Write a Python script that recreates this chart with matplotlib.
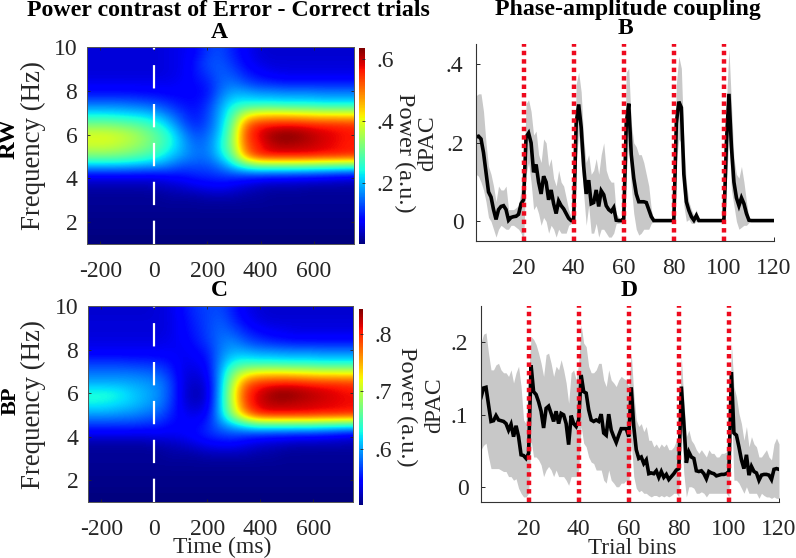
import numpy as np
import matplotlib
matplotlib.use('Agg')
import matplotlib.pyplot as plt

plt.rcParams['font.family'] = ['Liberation Serif', 'DejaVu Serif']

# heatmap grid, frequency rows from 10 Hz down to 1 Hz, values in % of the colour range
times = [-250, -200, -150, -100, -50, 0, 50, 100, 150, 200, 250, 300, 350, 400, 450, 500, 550, 600, 650, 700, 750]
freqs = [10, 9.5, 9, 8.5, 8, 7.5, 7, 6.5, 6, 5.5, 5, 4.5, 4, 3.5, 3, 2.5, 2, 1.5, 1]
power_rw = [
    [8, 8, 8, 8, 8, 8, 9, 10, 12, 18, 20, 15, 11, 8, 7, 7, 7, 7, 7, 7, 7],
    [8, 8, 8, 8, 8, 8, 9, 10, 14, 20, 21, 17, 12, 9, 8, 8, 8, 8, 8, 8, 8],
    [8, 8, 8, 8, 8, 8, 9, 10, 14, 18, 22, 20, 15, 12, 10, 9, 9, 9, 9, 9, 9],
    [10, 10, 10, 10, 10, 10, 10, 11, 13, 15, 22, 24, 20, 17, 16, 15, 15, 15, 15, 15, 15],
    [14, 14, 14, 14, 13, 13, 12, 12, 12, 14, 24, 30, 30, 28, 28, 27, 27, 27, 26, 26, 26],
    [24, 24, 24, 23, 22, 20, 17, 14, 13, 17, 28, 37, 38, 38, 38, 37, 37, 37, 36, 36, 36],
    [36, 36, 35, 34, 33, 30, 24, 18, 14, 19, 30, 44, 62, 67, 68, 68, 67, 66, 65, 65, 65],
    [50, 50, 49, 47, 44, 40, 32, 22, 16, 20, 31, 50, 80, 88, 89, 90, 90, 89, 88, 88, 87],
    [62, 62, 60, 57, 52, 46, 39, 28, 20, 23, 33, 54, 84, 91, 98, 100, 99, 96, 93, 91, 89],
    [60, 60, 58, 55, 51, 46, 39, 30, 23, 24, 36, 54, 82, 88, 94, 96, 95, 94, 92, 90, 88],
    [50, 50, 49, 47, 44, 40, 33, 28, 24, 24, 33, 48, 76, 88, 90, 90, 90, 90, 89, 89, 88],
    [30, 30, 30, 29, 28, 27, 24, 20, 20, 20, 24, 33, 41, 46, 46, 46, 46, 45, 44, 43, 42],
    [10, 10, 10, 10, 10, 10, 12, 13, 15, 16, 17, 17, 16, 15, 14, 14, 13, 13, 12, 11, 10],
    [4, 4, 4, 4, 4, 5, 6, 7, 9, 10, 11, 9, 7, 5, 4, 4, 4, 3, 3, 3, 3],
    [2, 2, 2, 2, 2, 2, 3, 3, 3, 4, 4, 4, 3, 3, 2, 2, 2, 2, 2, 2, 2],
    [2, 2, 2, 2, 2, 2, 2, 2, 2, 2, 2, 2, 2, 2, 2, 2, 2, 2, 2, 2, 2],
    [1, 1, 1, 1, 1, 1, 1, 1, 1, 1, 1, 1, 1, 1, 1, 1, 1, 1, 1, 1, 1],
    [1, 1, 1, 1, 1, 1, 1, 1, 1, 1, 1, 1, 1, 1, 1, 1, 1, 1, 1, 1, 1],
    [0, 0, 0, 0, 0, 0, 0, 0, 0, 0, 0, 0, 0, 0, 0, 0, 0, 0, 0, 0, 0],
]
power_bp = [
    [7, 7, 7, 7, 7, 8, 9, 13, 17, 19, 20, 15, 10, 8, 7, 7, 7, 7, 7, 7, 7],
    [8, 8, 8, 8, 8, 8, 9, 12, 16, 19, 22, 17, 12, 9, 8, 8, 8, 8, 8, 8, 8],
    [8, 8, 8, 8, 8, 8, 9, 12, 15, 19, 23, 21, 16, 13, 11, 10, 9, 9, 9, 9, 9],
    [9, 9, 9, 9, 9, 9, 10, 11, 14, 18, 24, 26, 21, 18, 16, 15, 14, 14, 14, 14, 14],
    [11, 11, 11, 11, 11, 11, 11, 10, 12, 15, 25, 30, 30, 28, 28, 27, 27, 27, 26, 26, 26],
    [18, 18, 18, 17, 17, 16, 14, 10, 10, 13, 27, 38, 40, 39, 39, 38, 38, 38, 37, 37, 37],
    [24, 24, 24, 24, 23, 22, 17, 9, 8, 11, 29, 50, 62, 66, 67, 67, 66, 65, 64, 64, 64],
    [30, 30, 30, 29, 28, 26, 20, 9, 6, 9, 30, 58, 80, 87, 88, 89, 89, 88, 87, 87, 86],
    [39, 39, 37, 33, 30, 27, 20, 9, 4, 8, 31, 62, 86, 92, 98, 100, 98, 96, 94, 92, 90],
    [37, 36, 34, 32, 29, 26, 19, 9, 6, 9, 32, 60, 85, 92, 95, 95, 94, 93, 92, 91, 90],
    [28, 28, 27, 26, 24, 22, 16, 11, 9, 12, 31, 55, 76, 88, 90, 90, 90, 90, 89, 89, 88],
    [18, 18, 18, 18, 17, 16, 13, 12, 12, 16, 25, 32, 39, 44, 44, 44, 44, 44, 43, 42, 41],
    [9, 9, 9, 9, 9, 10, 10, 11, 13, 16, 18, 19, 17, 16, 15, 15, 14, 14, 13, 12, 10],
    [3, 3, 3, 3, 3, 4, 5, 6, 8, 10, 11, 11, 9, 7, 6, 5, 4, 4, 4, 4, 4],
    [2, 2, 2, 2, 2, 2, 3, 3, 3, 4, 4, 4, 4, 3, 3, 2, 2, 2, 2, 2, 2],
    [2, 2, 2, 2, 2, 2, 2, 2, 2, 2, 2, 2, 2, 2, 2, 2, 2, 2, 2, 2, 2],
    [1, 1, 1, 1, 1, 1, 1, 1, 1, 1, 1, 1, 1, 1, 1, 1, 1, 1, 1, 1, 1],
    [1, 1, 1, 1, 1, 1, 1, 1, 1, 1, 1, 1, 1, 1, 1, 1, 1, 1, 1, 1, 1],
    [0, 0, 0, 0, 0, 0, 0, 0, 0, 0, 0, 0, 0, 0, 0, 0, 0, 0, 0, 0, 0],
]
range_rw = [0.003, 0.635]
range_bp = [0.503, 0.843]

# trial bins 1..120
pac_b = [.215, .217, .21, .175, .125, .075, .062, .03, .005, .03, .038, .04, .03, .003, .01, .012, .013, .018, .045, .055,
         .215, .225, .2, .125, .145, .1, .07, .115, .1, .055, .08, .045, .02, .052, .04, .032, .02, .008, .002, .002,
         .25, .298, .24, .14, .07, .105, .045, .048, .08, .038, .078, .068, .04, .03, .025, .035, .003, .002, .002, .007,
         .25, .3, .17, .11, .07, .05, .05, .05, .048, .03, .012, .002, .002, .002, .002, .002, .002, .002, .002, .002,
         .25, .305, .29, .12, .05, .028, .012, .003, .015, .002, .002, .002, .002, .002, .002, .002, .002, .002, .002, .002,
         .2, .325, .19, .1, .06, .04, .06, .045, .02, .003, .002, .002, .002, .002, .002, .002, .002, .002, .002, .002]
upper_b = [.32, .325, .325, .28, .2, .14, .12, .09, .05, .09, .08, .08, .09, .03, .03, .03, .035, .04, .08, .1,
           .3, .31, .28, .22, .23, .17, .15, .21, .2, .14, .16, .11, .09, .13, .1, .09, .06, .03, .01, .01,
           .35, .38, .33, .21, .15, .17, .12, .13, .16, .12, .17, .2, .13, .11, .1, .1, .02, .01, .005, .02,
           .38, .39, .25, .2, .19, .17, .17, .15, .12, .09, .03, .003, .002, .002, .002, .002, .002, .002, .002, .002,
           .35, .42, .39, .2, .1, .05, .03, .015, .03, .005, .002, .002, .002, .002, .002, .002, .002, .002, .002, .002,
           .3, .44, .3, .16, .12, .11, .14, .1, .05, .01, .002, .002, .002, .002, .002, .002, .002, .002, .002, .002]
lower_b = [.12, .115, .1, .08, .05, .01, 0, -.02, -.04, -.02, -.01, -.015, -.02, -.02, -.01, -.01, -.015, -.02, -.03, -.05,
           .12, .15, .1, .03, .04, .02, -.01, .01, 0, -.03, -.01, -.02, -.04, -.02, -.03, -.03, -.03, -.01, -.005, -.005,
           .15, .22, .15, .07, -.01, .04, -.03, -.03, -.005, -.04, -.02, -.02, -.03, -.04, -.04, -.03, -.005, -.005, -.003, -.005,
           .12, .2, .09, .02, -.02, -.035, -.03, -.02, -.02, -.02, -.005, .001, .002, .002, .002, .002, .002, .002, .002, .002,
           .15, .21, .2, .04, 0, .005, -.005, -.005, 0, 0, .002, .002, .002, .002, .002, .002, .002, .002, .002, .002,
           .1, .21, .08, .04, 0, -.02, -.015, -.01, -.01, -.003, .002, .002, .002, .002, .002, .002, .002, .002, .002, .002]

pac_d = [.124, .137, .138, .114, .091, .092, .099, .093, .092, .091, .088, .079, .087, .07, .085, .07, .045, .044, .04, .047,
         .168, .132, .128, .118, .105, .082, .109, .112, .102, .091, .105, .088, .102, .1, .088, .059, .099, .088, .084, .093,
         .155, .132, .13, .107, .093, .091, .093, .091, .101, .075, .072, .101, .079, .07, .062, .072, .081, .081, .081, .07,
         .138, .084, .052, .04, .042, .033, .038, .019, .02, .019, .023, .014, .022, .014, .018, .011, .015, .019, .024, .026,
         .139, .088, .034, .049, .042, .04, .023, .022, .023, .019, .012, .022, .02, .019, .016, .017, .018, .018, .019, .022,
         .159, .075, .072, .056, .038, .026, .045, .017, .029, .022, .02, .01, .017, .018, .018, .017, .011, .025, .026, .025]
upper_d = [.199, .211, .213, .185, .162, .162, .169, .171, .162, .158, .158, .153, .162, .144, .158, .167, .139, .093, .088, .153,
           .208, .204, .197, .185, .171, .153, .183, .185, .171, .153, .167, .162, .176, .162, .144, .116, .158, .162, .148, .171,
           .224, .199, .194, .167, .158, .158, .162, .171, .171, .148, .139, .162, .148, .144, .139, .148, .153, .15, .148, .139,
           .185, .13, .093, .084, .088, .077, .084, .065, .065, .056, .06, .054, .06, .056, .06, .052, .052, .056, .065, .07,
           .18, .12, .07, .079, .065, .06, .052, .047, .052, .047, .042, .052, .047, .047, .042, .042, .047, .047, .049, .056,
           .199, .139, .125, .102, .088, .065, .084, .056, .07, .06, .056, .042, .042, .047, .052, .042, .038, .06, .068, .06]
lower_d = [.052, .058, .061, .042, .026, .026, .026, .026, .024, .022, .022, .015, .015, .01, .012, -.001, -.008, -.013, -.013, -.008,
           .065, .042, .042, .038, .031, .015, .024, .029, .024, .015, .024, .015, .015, .015, .01, .003, .015, .015, .015, .024,
           .084, .061, .056, .042, .035, .033, .024, .024, .024, .01, .006, .024, .01, .006, .001, .001, .006, .006, .01, .001,
           .065, .015, -.001, -.006, -.004, -.008, -.008, -.011, -.013, -.011, -.011, -.013, -.011, -.013, -.011, -.013, -.011, -.008, -.008, -.013,
           .084, .019, -.013, .001, .001, -.001, -.008, -.008, -.006, -.008, -.013, -.008, -.008, -.008, -.008, -.008, -.008, -.008, -.008, -.013,
           .116, .01, .01, .006, -.001, -.008, .001, -.008, -.008, -.008, -.008, -.015, -.008, -.011, -.013, -.013, -.015, -.013, -.015, -.015]
bins = np.arange(1, 121)
block_edges = [20, 40, 60, 80, 100]

W, H = 796, 558
GRAY = '#262626'
TICK = 17
fig = plt.figure(figsize=(W / 100, H / 100), dpi=100)


def make_axes(x0, y0, x1, y1):
    # pixel box, y measured from the top
    return fig.add_axes([x0 / W, 1 - y1 / H, (x1 - x0) / W, (y1 - y0) / H])


def put(x, y, s, **kw):
    kw.setdefault('ha', 'center')
    kw.setdefault('va', 'center')
    kw.setdefault('color', GRAY)
    fig.text(x / W, 1 - y / H, s, **kw)


def heatmap(box, cbox, rows, crange, cticks, clabels):
    ax = make_axes(*box)
    grid = crange[0] + np.array(rows) / 100 * (crange[1] - crange[0])
    im = ax.imshow(grid, extent=[times[0], times[-1], freqs[-1], freqs[0]], origin='upper', aspect='auto',
                   cmap='jet', interpolation='bicubic', vmin=crange[0], vmax=crange[1])
    ax.plot([0, 0], [1, 10], color='white', lw=1.6, dashes=(10.5, 7), dash_capstyle='butt')
    ax.set_xlim(-250, 750)
    ax.set_ylim(1, 10)
    ax.set_xticks([-200, 0, 200, 400, 600])
    ax.set_xticklabels(['-200', '0', '200', '400', '600'])
    ax.set_yticks([2, 4, 6, 8, 10])
    ax.tick_params(direction='in', length=2.5, width=0.6, labelsize=TICK, colors=GRAY, top=True, right=True)
    ax.tick_params(axis='x', pad=12)
    ax.tick_params(axis='y', pad=7)
    for s in ax.spines.values():
        s.set_color('#555555')
        s.set_linewidth(0.7)
    cax = make_axes(*cbox)
    cb = fig.colorbar(im, cax=cax)
    cb.set_ticks(cticks)
    cb.set_ticklabels(clabels)
    cax.tick_params(direction='in', length=2, width=0.6, labelsize=TICK, colors=GRAY, pad=8)
    cb.outline.set_visible(False)
    return ax


def pac_panel(box, mean, upper, lower, ylim, yticks, ylabels):
    ax = make_axes(*box)
    ax.fill_between(bins, lower, upper, color='#c8c8c8', lw=0)
    ax.plot(bins, mean, color='black', lw=2.6, solid_joinstyle='miter')
    for e in block_edges:
        ax.axvline(e, color='#ee0a1e', lw=3.2, linestyle=(0, (1, 0.9)), dash_capstyle='butt')
    ax.set_xlim(1, 120)
    ax.set_ylim(*ylim)
    ax.set_xticks([20, 40, 60, 80, 100, 120])
    ax.set_yticks(yticks)
    ax.set_yticklabels(ylabels)
    ax.tick_params(direction='in', length=3, width=0.7, labelsize=TICK, colors=GRAY)
    ax.tick_params(axis='x', pad=12)
    ax.tick_params(axis='y', pad=9)
    ax.spines['top'].set_visible(False)
    ax.spines['right'].set_visible(False)
    for s in ['left', 'bottom']:
        ax.spines[s].set_color('#333333')
        ax.spines[s].set_linewidth(0.8)
    return ax


heatmap((87, 47, 354, 244), (359, 48, 365, 244), power_rw, range_rw, [.2, .4, .6], ['.2', '.4', '.6'])
heatmap((88, 306, 353, 502), (359, 309, 363, 505), power_bp, range_bp, [.6, .7, .8], ['.6', '.7', '.8'])
pac_panel((476, 44, 774, 241), pac_b, upper_b, lower_b, (-.05, .452), [0, .2, .4], ['0', '.2', '.4'])
pac_panel((481, 306, 779, 502), pac_d, upper_d, lower_d, (-.02, .25), [0, .1, .2], ['0', '.1', '.2'])

put(228, 10, 'Power contrast of Error - Correct trials', fontsize=17.2, fontweight='bold', color='black')
put(628, 9, 'Phase-amplitude coupling', fontsize=17.2, fontweight='bold', color='black')
put(219, 32, 'A', fontsize=17, fontweight='bold', color='black')
put(625, 29, 'B', fontsize=17, fontweight='bold', color='black')
put(219, 290, 'C', fontsize=17, fontweight='bold', color='black')
put(629, 290, 'D', fontsize=17, fontweight='bold', color='black')
put(9, 139, 'RW', fontsize=17.5, fontweight='bold', rotation=90, color='black')
put(11, 401, 'BP', fontsize=16, fontweight='bold', rotation=90, color='black')
put(33, 146, 'Frequency (Hz)', fontsize=19.4, rotation=90)
put(33, 405, 'Frequency (Hz)', fontsize=19.4, rotation=90)
put(405, 153, 'Power (a.u.)', fontsize=17.5, rotation=270)
put(407, 407, 'Power (a.u.)', fontsize=17.5, rotation=270)
put(428, 143, 'dPAC', fontsize=17, rotation=90)
put(435, 405, 'dPAC', fontsize=17, rotation=90)
put(222, 547, 'Time (ms)', fontsize=17)
put(632, 549, 'Trial bins', fontsize=16.7)

fig.savefig('out.png', dpi=100)
